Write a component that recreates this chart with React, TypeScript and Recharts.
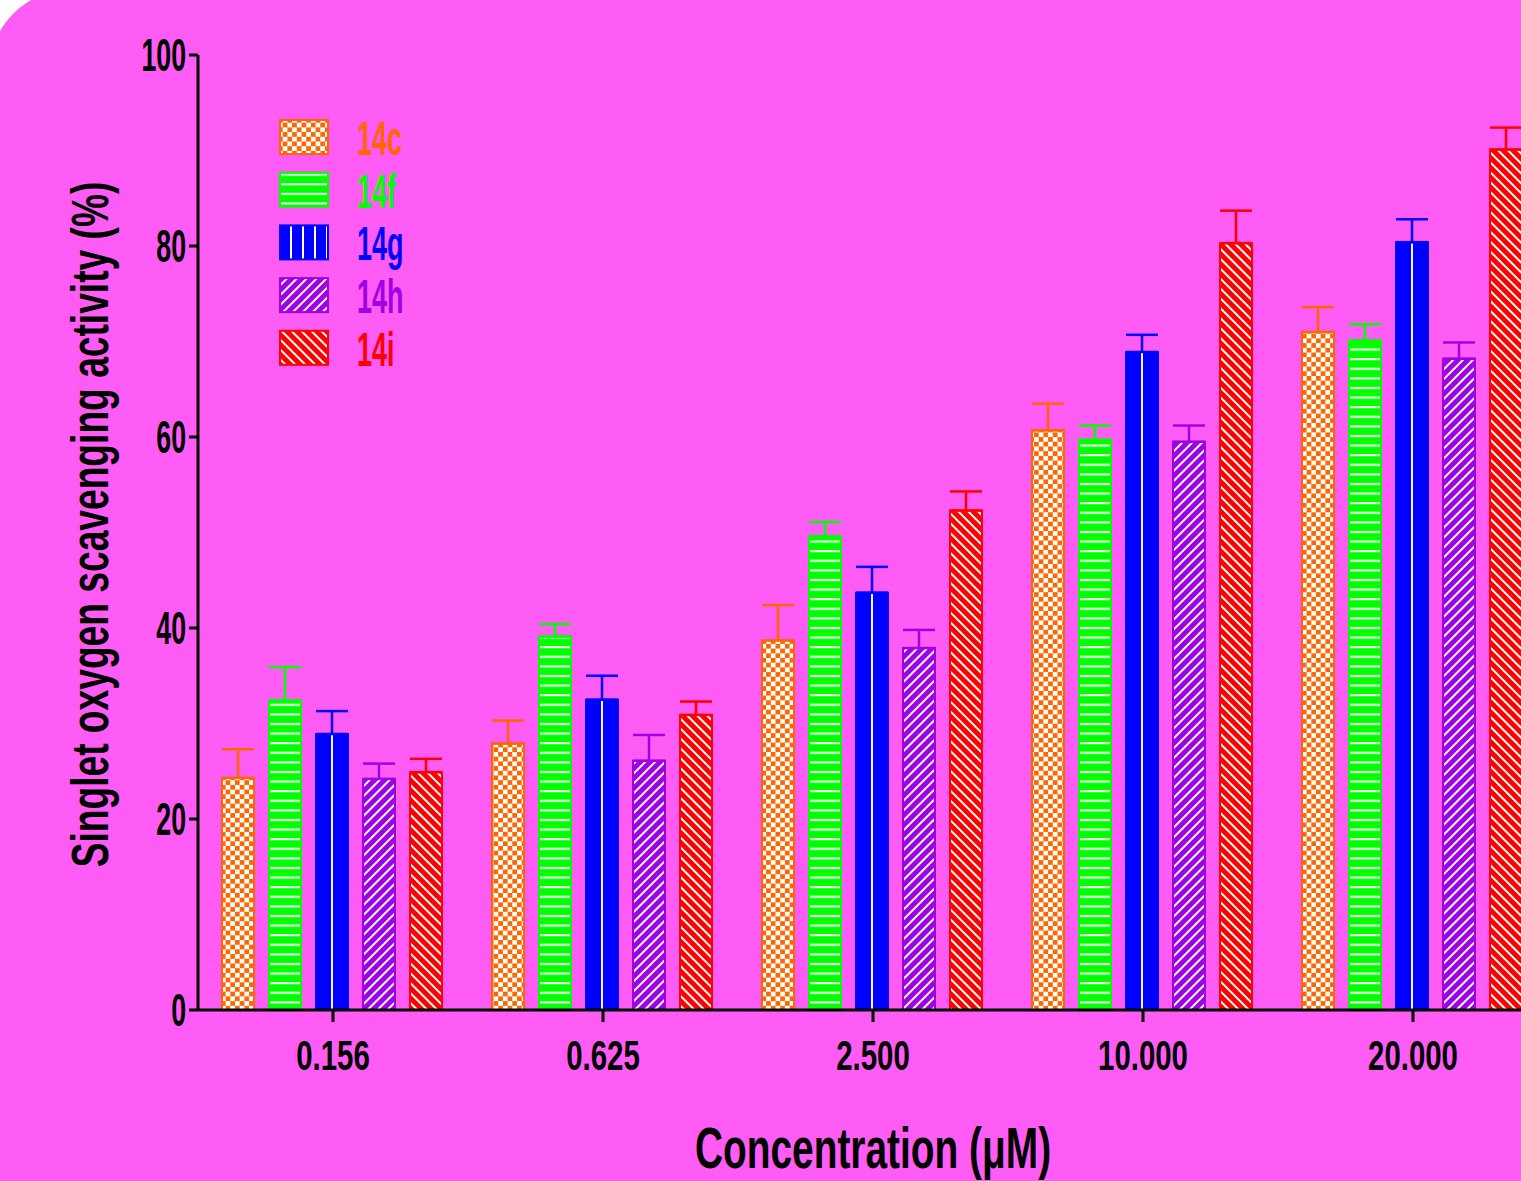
import { Bar, BarChart, ErrorBar, Legend, XAxis, YAxis } from 'recharts'

const categories = ['0.156', '0.625', '2.500', '10.000', '20.000']

const c14 = [24.3, 27.9, 38.7, 60.7, 71.0]
const c14Err = [3.0, 2.4, 3.7, 2.8, 2.6]
const f14 = [32.4, 39.1, 49.6, 59.7, 70.1]
const f14Err = [3.5, 1.3, 1.5, 1.5, 1.7]
const g14 = [28.9, 32.5, 43.7, 68.9, 80.4]
const g14Err = [2.4, 2.5, 2.7, 1.8, 2.4]
const h14 = [24.2, 26.1, 37.9, 59.5, 68.2]
const h14Err = [1.6, 2.7, 1.9, 1.7, 1.7]
const i14 = [24.9, 30.9, 52.3, 80.3, 90.1]
const i14Err = [1.4, 1.4, 2.0, 3.4, 2.3]

const yTicks = [0, 20, 40, 60, 80, 100]

const series = [
  { key: 'c', name: '14c', color: '#FF6600', fill: 'url(#pat-c)', legendFill: 'url(#pat-c)' },
  { key: 'f', name: '14f', color: '#00FF00', fill: 'url(#pat-f)', legendFill: 'url(#pat-f)' },
  { key: 'g', name: '14g', color: '#0000FF', fill: 'url(#pat-g)', legendFill: 'url(#pat-g-leg)' },
  { key: 'h', name: '14h', color: '#A000E6', fill: 'url(#pat-h)', legendFill: 'url(#pat-h)' },
  { key: 'i', name: '14i', color: '#FF0000', fill: 'url(#pat-i)', legendFill: 'url(#pat-i)' },
]

const data = categories.map((name, i) => ({
  name,
  c: c14[i],
  cErr: [0, c14Err[i]],
  f: f14[i],
  fErr: [0, f14Err[i]],
  g: g14[i],
  gErr: [0, g14Err[i]],
  h: h14[i],
  hErr: [0, h14Err[i]],
  i: i14[i],
  iErr: [0, i14Err[i]],
}))

const FONT = "'Liberation Sans', Arial, sans-serif"
const BG = '#FF5CF5'

function Patterns() {
  return (
    <svg width={0} height={0} style={{ position: 'absolute' }}>
      <defs>
        <pattern id="pat-c" patternUnits="userSpaceOnUse" width={9.4} height={9.4}>
          <rect width={9.4} height={9.4} fill="#fff" />
          <rect width={4.7} height={4.7} fill="#FF6600" />
          <rect x={4.7} y={4.7} width={4.7} height={4.7} fill="#FF6600" />
        </pattern>
        <pattern id="pat-f" patternUnits="userSpaceOnUse" width={10} height={9.6}>
          <rect width={10} height={9.6} fill="#00FF00" />
          <rect y={3} width={10} height={2} fill="#fff" />
        </pattern>
        <pattern id="pat-g" patternUnits="objectBoundingBox" patternContentUnits="objectBoundingBox" width={1} height={1}>
          <rect width={1} height={1} fill="#0000FF" />
          <rect x={0.47} width={0.06} height={1} fill="#fff" />
        </pattern>
        <pattern id="pat-g-leg" patternUnits="userSpaceOnUse" width={12} height={10} x={7}>
          <rect width={12} height={10} fill="#0000FF" />
          <rect x={5} width={2} height={10} fill="#fff" />
        </pattern>
        <pattern id="pat-h" patternUnits="userSpaceOnUse" width={7} height={7} patternTransform="rotate(45)">
          <rect width={7} height={7} fill="#A000E6" />
          <rect width={2} height={7} fill="#fff" />
        </pattern>
        <pattern id="pat-i" patternUnits="userSpaceOnUse" width={7} height={7} patternTransform="rotate(-45)">
          <rect width={7} height={7} fill="#FF0000" />
          <rect width={2} height={7} fill="#fff" />
        </pattern>
      </defs>
    </svg>
  )
}

function YTick({ x, y, payload }: any) {
  return (
    <g transform={`translate(${x},${y})`}>
      <text transform="scale(0.58,1)" textAnchor="end" dominantBaseline="central" fontSize={46} fontWeight="bold" fontFamily={FONT} fill="#000">
        {payload.value}
      </text>
    </g>
  )
}

function XTick({ x, y, payload }: any) {
  return (
    <g transform={`translate(${x},${y})`}>
      <text transform="scale(0.7,1)" y={46} textAnchor="middle" fontSize={42} fontWeight="bold" fontFamily={FONT} fill="#000">
        {payload.value}
      </text>
    </g>
  )
}

function YLabel({ viewBox }: any) {
  const cy = viewBox.y + viewBox.height / 2 - 8
  return (
    <g transform={`translate(108,${cy}) rotate(-90)`}>
      <text transform="scale(0.715,1)" textAnchor="middle" fontSize={52} fontWeight="bold" fontFamily={FONT} fill="#000">
        Singlet oxygen scavenging activity (%)
      </text>
    </g>
  )
}

function XLabel({ viewBox }: any) {
  const cx = viewBox.x + viewBox.width / 2
  return (
    <g transform={`translate(${cx},1168)`}>
      <text transform="scale(0.67,1)" textAnchor="middle" fontSize={58} fontWeight="bold" fontFamily={FONT} fill="#000">
        Concentration (μM)
      </text>
    </g>
  )
}

function LegendBox() {
  return (
    <svg width={200} height={290}>
      {series.map((s, i) => (
        <g key={s.key} transform={`translate(0,${12 + i * 52.7})`}>
          <rect x={2} y={2} width={48} height={34} fill={s.legendFill} stroke={s.color} strokeWidth={2} />
          <g transform="translate(79,37)">
            <text transform="scale(0.55,1)" fontSize={49} fontWeight="bold" fontFamily={FONT} fill={s.color}>
              {s.name}
            </text>
          </g>
        </g>
      ))}
    </svg>
  )
}

export default function App() {
  return (
    <div style={{ position: 'absolute', left: 0, top: 0, width: 1521, height: 1181, overflow: 'hidden', background: '#fff' }}>
      <Patterns />
      <div style={{ position: 'absolute', left: -10, top: -10, width: 1600, height: 1250, background: BG, borderTopLeftRadius: 80 }} />
      <div style={{ position: 'absolute', left: 0, top: 0 }}>
        <BarChart
          width={1560}
          height={1181}
          data={data}
          margin={{ top: 55, right: 12, bottom: 0, left: 0 }}
          barCategoryGap={24}
          barGap={15}
        >
          <XAxis
            dataKey="name"
            height={171}
            axisLine={{ stroke: '#000', strokeWidth: 3 }}
            tickLine={{ stroke: '#000', strokeWidth: 3 }}
            tickSize={12}
            tick={<XTick />}
            label={<XLabel />}
          />
          <YAxis
            domain={[0, 100]}
            ticks={yTicks}
            width={198}
            axisLine={{ stroke: '#000', strokeWidth: 3 }}
            tickLine={{ stroke: '#000', strokeWidth: 3 }}
            tickSize={9}
            tickMargin={3}
            tick={<YTick />}
            label={<YLabel />}
          />
          <Legend
            layout="vertical"
            align="center"
            verticalAlign="middle"
            wrapperStyle={{ left: 278, top: 106, width: 200, height: 290 }}
            content={() => <LegendBox />}
          />
          {series.map((s) => (
            <Bar key={s.key} dataKey={s.key} name={s.name} fill={s.fill} stroke={s.color} strokeWidth={2} isAnimationActive={false}>
              <ErrorBar dataKey={`${s.key}Err`} width={16} stroke={s.color} strokeWidth={2.5} direction="y" />
            </Bar>
          ))}
        </BarChart>
      </div>
    </div>
  )
}
